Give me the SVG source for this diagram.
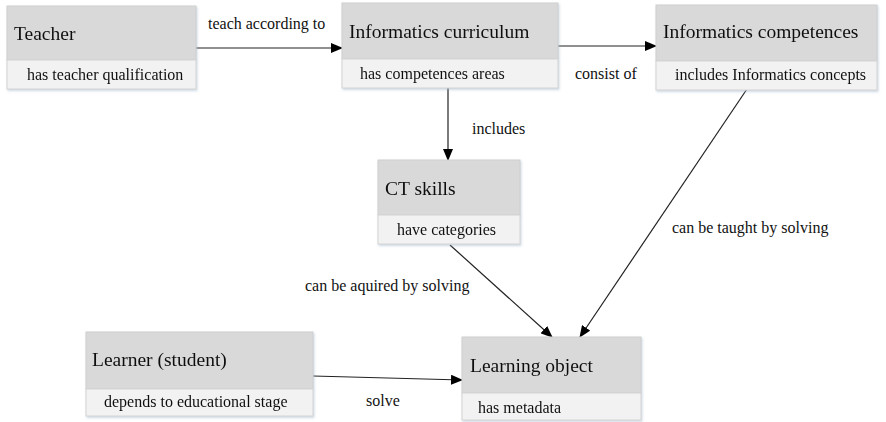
<svg xmlns="http://www.w3.org/2000/svg" width="886" height="422" viewBox="0 0 886 422">
<defs>
<marker id="arr" markerWidth="12" markerHeight="10" refX="11" refY="5" orient="auto" markerUnits="userSpaceOnUse">
<path d="M0,0 L12,5 L0,10 z" fill="#000"/>
</marker>
<filter id="sh" x="-5%" y="-5%" width="110%" height="115%">
<feDropShadow dx="1" dy="1.5" stdDeviation="1.2" flood-color="#9fb6cc" flood-opacity="0.5"/>
</filter>
</defs>
<style>
.hd{fill:#d9d9d9;stroke:#cfcfcf;stroke-width:1}
.sb{fill:#f2f2f2;stroke:#d4d4d4;stroke-width:1}
.t{font-family:"Liberation Serif","Times New Roman",serif;font-size:19.5px;fill:#111}
.s{font-family:"Liberation Serif","Times New Roman",serif;font-size:16px;fill:#111}
.l{font-family:"Liberation Serif","Times New Roman",serif;font-size:16px;fill:#111}
.e{stroke:#222;stroke-width:1.2;fill:none;marker-end:url(#arr)}
</style>
<rect width="886" height="422" fill="#fff"/>
<g id="connectors">
<line class="e" x1="196" y1="48" x2="342" y2="48"/>
<line class="e" x1="558" y1="46" x2="656" y2="46"/>
<line class="e" x1="448" y1="88" x2="448" y2="160"/>
<line class="e" x1="450" y1="245" x2="552" y2="337"/>
<line class="e" x1="747" y1="89" x2="580" y2="337"/>
<line class="e" x1="313" y1="376" x2="462" y2="380"/>
<text class="l" x="208" y="29">teach according to</text>
<text class="l" x="575" y="79">consist of</text>
<text class="l" x="472" y="134">includes</text>
<text class="l" x="305" y="291">can be aquired by solving</text>
<text class="l" x="672" y="233">can be taught by solving</text>
<text class="l" x="366" y="406">solve</text>
</g>
<g id="teacher" filter="url(#sh)">
<rect class="hd" x="7" y="6" width="189" height="54"/>
<rect class="sb" x="7" y="60" width="189" height="29"/>
<text class="t" x="14" y="40">Teacher</text>
<text class="s" x="27" y="80">has teacher qualification</text>
</g>
<g id="curriculum" filter="url(#sh)">
<rect class="hd" x="342" y="3" width="216" height="56"/>
<rect class="sb" x="342" y="59" width="216" height="29"/>
<text class="t" x="349" y="38">Informatics curriculum</text>
<text class="s" x="360" y="79">has competences areas</text>
</g>
<g id="competences" filter="url(#sh)">
<rect class="hd" x="656" y="5" width="221" height="56"/>
<rect class="sb" x="656" y="61" width="221" height="29"/>
<text class="t" x="663" y="38">Informatics competences</text>
<text class="s" x="675" y="80">includes Informatics concepts</text>
</g>
<g id="ctskills" filter="url(#sh)">
<rect class="hd" x="378" y="160" width="142" height="55"/>
<rect class="sb" x="378" y="215" width="142" height="29"/>
<text class="t" x="385" y="195">CT skills</text>
<text class="s" x="397" y="235">have categories</text>
</g>
<g id="learner" filter="url(#sh)">
<rect class="hd" x="86" y="332" width="227" height="57"/>
<rect class="sb" x="86" y="389" width="227" height="27"/>
<text class="t" x="92" y="366">Learner (student)</text>
<text class="s" x="104" y="407">depends to educational stage</text>
</g>
<g id="learningobject" filter="url(#sh)">
<rect class="hd" x="462" y="337" width="179" height="56"/>
<rect class="sb" x="462" y="393" width="179" height="27"/>
<text class="t" x="470" y="372">Learning object</text>
<text class="s" x="478" y="413">has metadata</text>
</g>
</svg>
